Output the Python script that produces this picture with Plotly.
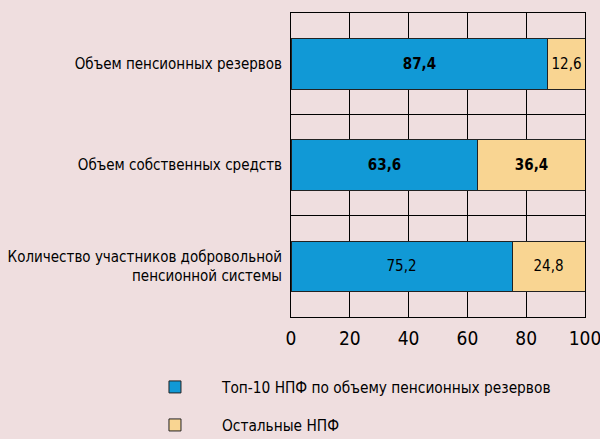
import plotly.graph_objects as go

categories = ["Количество участников добровольной<br>пенсионной системы",
              "Объем собственных средств",
              "Объем пенсионных резервов"]
top10 = [75.2, 63.6, 87.4]
others = [24.8, 36.4, 12.6]
series_names = ["Топ-10 НПФ по объему пенсионных резервов", "Остальные НПФ"]
x_ticks = [0, 20, 40, 60, 80, 100]
bold_top10 = [False, True, True]
bold_others = [False, True, False]

BG = "#efdedf"
BLUE = "#1199d6"
YELLOW = "#f9d592"
FONT = "DejaVu Sans Condensed, Liberation Sans Narrow, Liberation Sans, sans-serif"

def fmt(v, b):
    s = f"{v:.1f}".replace(".", ",")
    return f"<b>{s}</b>" if b else s

ypos = list(range(len(categories)))

fig = go.Figure()
fig.add_trace(go.Bar(
    y=ypos, x=top10, orientation="h", name=series_names[0],
    marker=dict(color=BLUE, line=dict(color="#222222", width=1)),
    text=[fmt(v, b) for v, b in zip(top10, bold_top10)],
    textposition="inside", insidetextanchor="middle", textangle=0,
    textfont=dict(family=FONT, size=15, color="black"),
    width=0.5, legend="legend", showlegend=True))
fig.add_trace(go.Bar(
    y=ypos, x=others, orientation="h", name=series_names[1],
    marker=dict(color=YELLOW, line=dict(color="#222222", width=1)),
    text=[fmt(v, b) for v, b in zip(others, bold_others)],
    textposition="inside", insidetextanchor="middle", textangle=0,
    textfont=dict(family=FONT, size=15, color="black"),
    width=0.5, legend="legend2", showlegend=True))

minor_vals = [-0.5 + 0.25 * k for k in range(13)]

fig.update_layout(
    barmode="stack",
    showlegend=True,
    width=600, height=439,
    margin=dict(l=291, r=15, t=13, b=122, autoexpand=False),
    paper_bgcolor=BG, plot_bgcolor=BG,
    font=dict(family=FONT, size=15, color="black"),
    xaxis=dict(range=[0, 100], tickvals=x_ticks, showgrid=True,
               gridcolor="black", gridwidth=1, zeroline=False,
               showline=True, linecolor="black", linewidth=1, mirror=True,
               tickfont=dict(size=19), ticks="outside", ticklen=4,
               tickcolor="rgba(0,0,0,0)", fixedrange=True,
               automargin=False, ticklabeloverflow="allow"),
    yaxis=dict(range=[-0.5, 2.5], tickvals=ypos, ticktext=categories,
               showgrid=False, zeroline=False,
               showline=True, linecolor="black", linewidth=1, mirror=True,
               ticks="outside", ticklen=5, tickcolor="rgba(0,0,0,0)",
               minor=dict(tickvals=minor_vals, showgrid=True,
                          gridcolor="black", gridwidth=1, ticks=""),
               tickfont=dict(size=15), automargin=False, fixedrange=True),
    legend=dict(xref="container", yref="container",
                x=0.2133, xanchor="left", y=0.1185, yanchor="middle",
                bgcolor="rgba(0,0,0,0)", font=dict(size=15.3), itemwidth=84),
    legend2=dict(xref="container", yref="container",
                 x=0.2133, xanchor="left", y=0.0319, yanchor="middle",
                 bgcolor="rgba(0,0,0,0)", font=dict(size=15.3), itemwidth=84),
)

fig.write_html(
    "out.html",
    config={"displayModeBar": False},
    post_script="document.body.style.margin='0';document.body.style.background='%s';" % BG,
)
